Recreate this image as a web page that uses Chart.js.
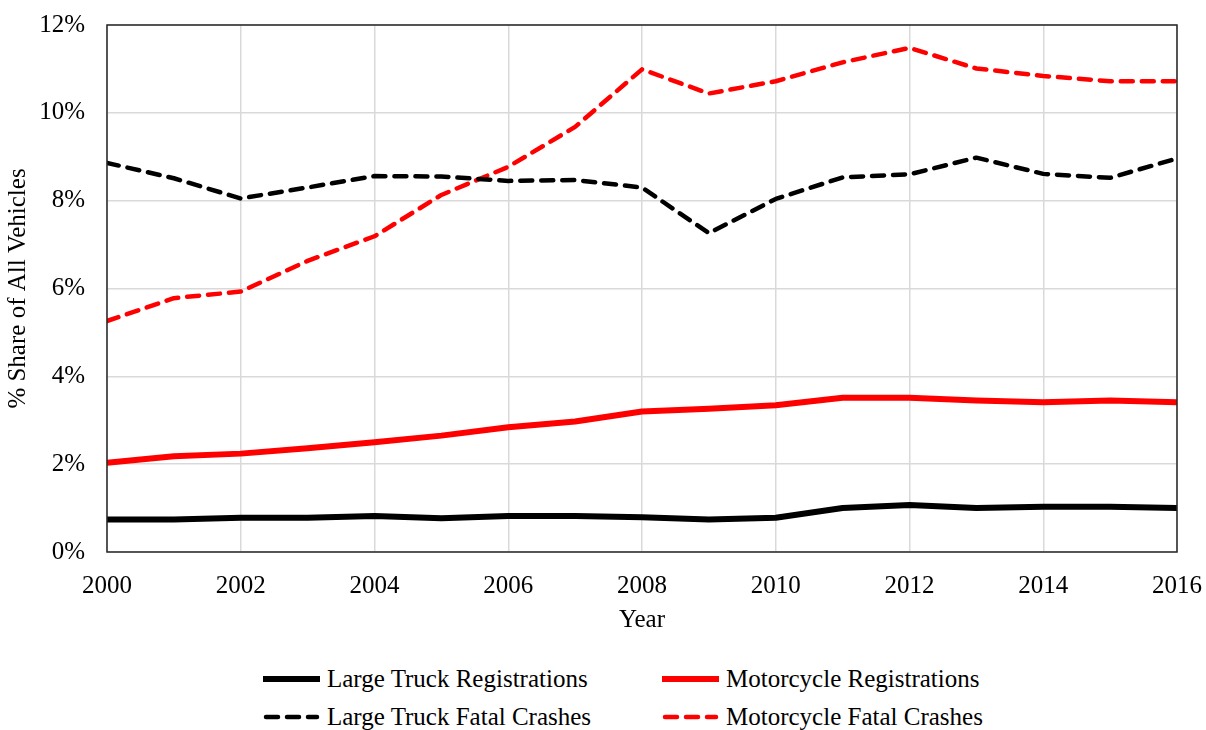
<!DOCTYPE html>
<html>
<head>
<meta charset="utf-8">
<script src="https://cdn.jsdelivr.net/npm/chart.js@4.4.1/dist/chart.umd.min.js"></script>
<style>
  html, body { margin: 0; padding: 0; background: #fff; }
  #wrap { position: relative; width: 1206px; height: 730px; }
  #chart { position: absolute; left: 0; top: 0; }
  .leg {
    position: absolute;
    height: 30px;
    display: flex;
    align-items: center;
    font-family: "Liberation Serif", "Times New Roman", serif;
    font-size: 25px;
    color: #000;
    white-space: nowrap;
  }
  .leg svg { margin-right: 7px; }
</style>
</head>
<body>
<div id="wrap">
  <canvas id="chart" width="1206" height="645"></canvas>
  <div id="legend"></div>
</div>
<script>
const years = [2000, 2001, 2002, 2003, 2004, 2005, 2006, 2007, 2008, 2009, 2010, 2011, 2012, 2013, 2014, 2015, 2016];
const truckRegistrations = [0.74, 0.74, 0.78, 0.78, 0.82, 0.77, 0.82, 0.82, 0.79, 0.74, 0.78, 1.00, 1.07, 1.00, 1.03, 1.03, 1.00];
const motorcycleRegistrations = [2.03, 2.18, 2.24, 2.36, 2.50, 2.65, 2.84, 2.97, 3.20, 3.26, 3.34, 3.51, 3.51, 3.45, 3.41, 3.45, 3.41];
const truckFatalCrashes = [8.86, 8.51, 8.05, 8.30, 8.56, 8.55, 8.45, 8.47, 8.30, 7.26, 8.04, 8.53, 8.60, 8.98, 8.61, 8.52, 8.96];
const motorcycleFatalCrashes = [5.26, 5.78, 5.93, 6.63, 7.19, 8.13, 8.77, 9.68, 10.99, 10.44, 10.72, 11.15, 11.48, 11.01, 10.84, 10.72, 10.72];

const seriesNames = ["Large Truck Registrations", "Motorcycle Registrations", "Large Truck Fatal Crashes", "Motorcycle Fatal Crashes"];
const yearTicks = [2000, 2002, 2004, 2006, 2008, 2010, 2012, 2014, 2016];

const FONT = "'Liberation Serif', 'Times New Roman', serif";
const DASH = [12, 9];

function points(values) {
  return years.map((y, i) => ({ x: y, y: values[i] }));
}

// frame round the plot area
const framePlugin = {
  id: "frame",
  afterDatasetsDraw(chart) {
    const { ctx, chartArea: a } = chart;
    ctx.save();
    ctx.strokeStyle = "#262626";
    ctx.lineWidth = 1.5;
    ctx.strokeRect(a.left, a.top, a.right - a.left, a.bottom - a.top);
    ctx.restore();
  },
};

const solid = (color) => ({ borderColor: color, borderWidth: 6, pointRadius: 0, borderJoinStyle: "round", borderCapStyle: "butt", tension: 0, fill: false });
const dashed = (color) => ({ borderColor: color, borderWidth: 4.5, borderDash: DASH, pointRadius: 0, borderJoinStyle: "round", borderCapStyle: "round", tension: 0, fill: false });

new Chart(document.getElementById("chart"), {
  type: "line",
  data: {
    datasets: [
      { label: seriesNames[2], data: points(truckFatalCrashes), ...dashed("#000000") },
      { label: seriesNames[3], data: points(motorcycleFatalCrashes), ...dashed("#ff0000") },
      { label: seriesNames[0], data: points(truckRegistrations), ...solid("#000000") },
      { label: seriesNames[1], data: points(motorcycleRegistrations), ...solid("#ff0000") },
    ],
  },
  options: {
    responsive: false,
    animation: false,
    layout: { padding: { top: 25, right: 29, bottom: 0, left: 0 } },
    plugins: { legend: { display: false }, tooltip: { enabled: false } },
    scales: {
      x: {
        type: "linear",
        min: 2000,
        max: 2016,
        afterBuildTicks: (scale) => { scale.ticks = yearTicks.map((v) => ({ value: v })); },
        afterFit: (scale) => { scale.height = 93; scale.paddingLeft = 0; scale.paddingRight = 0; },
        grid: { color: "#d9d9d9", lineWidth: 1.5, drawTicks: false },
        border: { display: false },
        ticks: {
          padding: 19,
          color: "#000",
          maxRotation: 0,
          font: { family: FONT, size: 25 },
          callback: (v) => String(v),
        },
        title: {
          display: true,
          text: "Year",
          color: "#000",
          font: { family: FONT, size: 25 },
          padding: { top: 0, bottom: 10 },
        },
      },
      y: {
        min: 0,
        max: 12,
        afterFit: (scale) => { scale.width = 107; scale.paddingTop = 0; scale.paddingBottom = 0; },
        grid: { color: "#d9d9d9", lineWidth: 1.5, drawTicks: false },
        border: { display: false },
        ticks: {
          stepSize: 2,
          padding: 22,
          color: "#000",
          font: { family: FONT, size: 25 },
          callback: (v) => v + "%",
        },
        title: {
          display: true,
          text: "% Share of All Vehicles",
          color: "#000",
          font: { family: FONT, size: 25 },
          padding: { top: 3, bottom: 0 },
        },
      },
    },
  },
  plugins: [framePlugin],
});

// legend, 2 x 2 grid under the chart
const legendItems = [
  { name: seriesNames[0], color: "#000000", dash: false, left: 263, top: 664 },
  { name: seriesNames[1], color: "#ff0000", dash: false, left: 662, top: 664 },
  { name: seriesNames[2], color: "#000000", dash: true, left: 263, top: 702 },
  { name: seriesNames[3], color: "#ff0000", dash: true, left: 662, top: 702 },
];
const legend = document.getElementById("legend");
for (const item of legendItems) {
  const div = document.createElement("div");
  div.className = "leg";
  div.style.left = item.left + "px";
  div.style.top = item.top + "px";
  const line = item.dash
    ? `<line x1="3" y1="5" x2="54" y2="5" stroke="${item.color}" stroke-width="4.5" stroke-linecap="round" stroke-dasharray="12 9"/>`
    : `<line x1="0" y1="5" x2="57" y2="5" stroke="${item.color}" stroke-width="6" stroke-linecap="round"/>`;
  div.innerHTML = `<svg width="57" height="10">${line}</svg><span>${item.name}</span>`;
  legend.appendChild(div);
}
</script>
</body>
</html>
